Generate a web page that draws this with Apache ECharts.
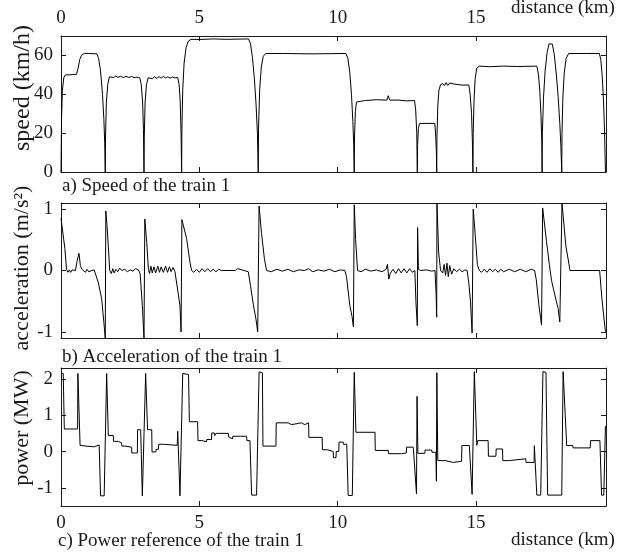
<!DOCTYPE html>
<html>
<head>
<meta charset="utf-8">
<script src="https://cdn.jsdelivr.net/npm/echarts@6.0.0/dist/echarts.min.js"></script>
<style>
  html, body { margin: 0; padding: 0; background: #fff; }
  #main { width: 619px; height: 556px; }
</style>
</head>
<body>
<div id="main"></div>
<script>
// distance axis (km)
const xMax = 19.7;
const xTicks = [0, 5, 10, 15];

// a) speed of the train 1 : [distance km, speed km/h]
const speedData = [
  [0, 0], [0.02, 28], [0.05, 42], [0.1, 48.5], [0.16, 50], [0.3, 50], [0.56, 50.3], [0.62, 53.5], [0.68, 58],
  [0.75, 60.3], [0.85, 61], [1.0, 61], [1.3, 60.8], [1.36, 58.5], [1.43, 52], [1.5, 40], [1.55, 27], [1.58, 15], [1.6, 0],
  [1.61, 18], [1.64, 36], [1.69, 45], [1.75, 49], [1.82, 49.5], [1.9, 48.6], [1.98, 49.4], [2.06, 48.7], [2.15, 49.3],
  [2.25, 48.6], [2.35, 49.2], [2.45, 48.7], [2.55, 49.1], [2.65, 48.6], [2.75, 48.8], [2.85, 48.4], [2.9, 45], [2.95, 36],
  [2.98, 22], [3.0, 0],
  [3.01, 18], [3.04, 36], [3.09, 45], [3.15, 48.5], [3.22, 48.8], [3.3, 48], [3.38, 49], [3.46, 48.2], [3.54, 49.1],
  [3.62, 48.3], [3.7, 49.2], [3.78, 48.4], [3.86, 49], [3.94, 48.3], [4.02, 48.9], [4.1, 48.5], [4.22, 48.6], [4.27, 45],
  [4.31, 36], [4.34, 20], [4.36, 0],
  [4.37, 22], [4.4, 42], [4.45, 56], [4.52, 64], [4.6, 67.3], [4.7, 68.3], [5.0, 68.2], [5.5, 68.5], [6.0, 68.3],
  [6.78, 68.5], [6.85, 66], [6.92, 59], [6.99, 48], [7.05, 35], [7.1, 20], [7.13, 0],
  [7.14, 22], [7.18, 42], [7.24, 54], [7.31, 59.5], [7.4, 61], [8, 61], [9, 60.8], [10.3, 61], [10.37, 58.5],
  [10.44, 51], [10.5, 40], [10.55, 26], [10.58, 14], [10.6, 0],
  [10.61, 18], [10.64, 31], [10.68, 36], [10.75, 37], [11, 36.8], [11.4, 37.2], [11.78, 37], [11.83, 39.3], [11.88, 37],
  [12.2, 37], [12.5, 36.6], [12.78, 36.8], [12.82, 32], [12.86, 20], [12.88, 0],
  [12.89, 14], [12.92, 22.5], [12.96, 25], [13.3, 25], [13.51, 25], [13.54, 20], [13.57, 10], [13.58, 0],
  [13.59, 18], [13.62, 34], [13.66, 42], [13.72, 45], [13.8, 45.5], [13.86, 44.4], [13.92, 46], [13.98, 44.6],
  [14.05, 45.8], [14.12, 44.8], [14.2, 45.3], [14.35, 45], [14.5, 44.7], [14.74, 44.8], [14.79, 40], [14.84, 30],
  [14.87, 16], [14.89, 0],
  [14.9, 20], [14.93, 37], [14.97, 48], [15.03, 53.5], [15.12, 54.5], [15.5, 54.2], [16, 54.5], [16.5, 54.3],
  [17.2, 54.5], [17.26, 50], [17.31, 41], [17.35, 29], [17.38, 15], [17.39, 0],
  [17.4, 20], [17.44, 38], [17.5, 52], [17.57, 61.5], [17.64, 66], [17.7, 67], [17.76, 65.8], [17.83, 60.5],
  [17.9, 51], [17.97, 39], [18.03, 25], [18.07, 13], [18.1, 0],
  [18.11, 20], [18.14, 38], [18.19, 51], [18.26, 58.5], [18.35, 61], [19, 61], [19.46, 61], [19.51, 58], [19.56, 50],
  [19.61, 37], [19.65, 20], [19.68, 0]
];

// b) acceleration of the train 1 : [distance km, m/s2]
const accelData = [
  [0, 0.85], [0.03, 0.88], [0.14, 0.36], [0.2, 0.02], [0.25, -0.03], [0.3, 0.01], [0.35, -0.03], [0.4, 0.01],
  [0.45, -0.02], [0.52, 0.0], [0.58, 0.15], [0.65, 0.28], [0.7, 0.08], [0.76, 0.02], [0.82, 0.0], [0.88, -0.03],
  [0.94, 0.02], [1.0, -0.02], [1.06, 0.01], [1.12, 0.0], [1.2, 0.01], [1.27, -0.02], [1.35, -0.2], [1.47, -0.46],
  [1.55, -0.85], [1.6, -1.1], [1.62, 0.97], [1.66, 0.75], [1.71, 0.4], [1.76, 0.0], [1.82, -0.05], [1.87, 0.03],
  [1.92, -0.04], [1.98, 0.02], [2.05, -0.02], [2.12, 0.04], [2.2, 0.0], [2.3, 0.02], [2.4, -0.02], [2.5, 0.01],
  [2.6, -0.01], [2.7, 0.03], [2.8, 0.01], [2.86, -0.05], [2.94, -0.57], [2.97, -0.6], [3.0, -1.1],
  [3.03, 0.84], [3.1, 0.45], [3.16, 0.02], [3.2, -0.05], [3.25, 0.07], [3.3, -0.04], [3.36, 0.06], [3.42, -0.04],
  [3.5, 0.07], [3.56, -0.03], [3.62, 0.06], [3.7, -0.03], [3.78, 0.07], [3.85, -0.03], [3.92, 0.06], [3.98, -0.02],
  [4.05, 0.05], [4.12, -0.02], [4.18, 0.0], [4.3, -0.57], [4.34, -1.0],
  [4.37, 0.83], [4.42, 0.8], [4.54, 0.52], [4.66, 0.14], [4.72, 0.0], [4.8, -0.03], [4.9, 0.02], [5.0, -0.03],
  [5.1, 0.03], [5.2, -0.02], [5.3, 0.03], [5.4, -0.02], [5.5, 0.02], [5.6, -0.02], [5.7, 0.02], [5.8, 0.0],
  [6.3, 0.0], [6.38, 0.03], [6.45, 0.0], [6.77, -0.02], [6.85, -0.25], [6.95, -0.55], [7.05, -0.8], [7.11, -1.0],
  [7.16, 1.05], [7.25, 0.6], [7.35, 0.2], [7.43, 0.0], [7.6, -0.02], [7.8, 0.02], [8.0, -0.01], [8.2, 0.02],
  [8.4, -0.02], [8.6, 0.01], [8.8, 0.0], [8.95, 0.03], [9.1, -0.02], [9.3, 0.01], [9.5, -0.01], [9.7, 0.02],
  [9.9, -0.02], [10.1, 0.01], [10.26, 0.0], [10.32, -0.1], [10.44, -0.57], [10.52, -0.75], [10.57, -0.92],
  [10.6, 1.07], [10.65, 0.5], [10.72, 0.0], [10.85, -0.02], [11.0, 0.02], [11.2, -0.01], [11.4, 0.01], [11.6, -0.02],
  [11.75, 0.02], [11.8, 0.1], [11.85, -0.14], [11.9, -0.05], [12.0, 0.02], [12.1, -0.05], [12.2, 0.03], [12.3, -0.04],
  [12.4, 0.03], [12.5, -0.04], [12.6, 0.03], [12.7, -0.03], [12.79, 0.0], [12.83, -0.52], [12.88, -0.9],
  [12.89, 0.7], [12.92, 0.02], [13.0, 0.0], [13.2, 0.01], [13.4, -0.01], [13.52, 0.0], [13.56, -0.4], [13.58, -0.76],
  [13.59, 1.1], [13.65, 0.3], [13.72, 0.0], [13.8, -0.04], [13.85, 0.1], [13.9, -0.08], [13.95, 0.12], [14.0, -0.1],
  [14.05, 0.08], [14.12, -0.06], [14.2, 0.03], [14.3, -0.02], [14.4, 0.02], [14.5, -0.02], [14.6, 0.01], [14.68, 0.0],
  [14.74, -0.2], [14.8, -0.5], [14.86, -1.02], [14.9, 1.0], [14.97, 0.6], [15.05, 0.1], [15.12, 0.0], [15.2, -0.03],
  [15.3, 0.02], [15.4, -0.03], [15.5, 0.03], [15.6, -0.02], [15.7, 0.02], [15.8, -0.03], [15.9, 0.02], [16.0, -0.02],
  [16.2, 0.02], [16.4, -0.02], [16.6, 0.02], [16.8, -0.02], [17.0, 0.02], [17.12, 0.0], [17.18, -0.15],
  [17.27, -0.55], [17.37, -0.89], [17.41, 1.02], [17.55, 0.47], [17.65, 0.1], [17.73, -0.16], [17.85, -0.4],
  [17.97, -0.62], [18.03, -0.84], [18.09, -0.86], [18.11, 1.1], [18.25, 0.4], [18.4, 0.0], [19.47, 0.0],
  [19.55, -0.45], [19.68, -1.0]
];

// c) power reference of the train 1 : [distance km, MW]
const powerData = [
  [0, 2.15], [0.08, 2.15], [0.12, 0.62], [0.6, 0.62], [0.61, 2.15], [0.65, 2.12], [0.69, 0.17], [0.9, 0.15],
  [0.92, 0.12], [1.2, 0.13], [1.21, 0.18], [1.38, 0.18], [1.43, -1.22], [1.56, -1.22], [1.65, 2.15], [1.69, 2.15],
  [1.71, 0.44], [1.89, 0.44], [1.9, 0.28], [2.07, 0.28], [2.08, 0.24], [2.19, 0.24], [2.2, 0.15], [2.31, 0.15],
  [2.32, 0.2], [2.37, 0.2], [2.38, 0.12], [2.55, 0.12], [2.56, -0.04], [2.76, -0.04], [2.77, 0.6], [2.88, 0.6],
  [2.94, -1.22], [2.98, -1.22], [3.06, 2.15], [3.09, 2.15], [3.13, 0.6], [3.28, 0.6], [3.29, -0.01], [3.43, -0.01],
  [3.44, 0.06], [3.52, 0.06], [3.53, 0.2], [3.7, 0.2], [3.71, 0.17], [4.2, 0.17], [4.22, 0.56], [4.3, -1.22],
  [4.33, -1.22], [4.4, 2.15], [4.61, 2.12], [4.64, 0.82], [4.94, 0.82], [4.95, 0.3], [5.1, 0.3], [5.11, 0.27],
  [5.26, 0.27], [5.27, 0.33], [5.44, 0.33], [5.45, 0.51], [5.55, 0.51], [5.56, 0.44], [5.6, 0.44], [5.61, 0.5],
  [5.69, 0.5], [5.7, 0.46], [5.75, 0.46], [5.76, 0.5], [6.05, 0.5], [6.06, 0.4], [6.12, 0.4], [6.13, 0.35],
  [6.2, 0.35], [6.21, 0.42], [6.4, 0.42], [6.41, 0.38], [6.47, 0.38], [6.48, 0.42], [6.71, 0.42], [6.72, 0.3],
  [6.83, 0.3], [6.89, -1.2], [7.07, -1.2], [7.16, 2.19], [7.28, 2.17], [7.3, 0.15], [7.77, 0.15], [7.78, 0.79],
  [8.21, 0.79], [8.22, 0.74], [8.33, 0.74], [8.34, 0.79], [8.69, 0.79], [8.7, 0.74], [8.81, 0.74], [8.82, 0.79],
  [8.95, 0.79], [8.96, 0.39], [9.44, 0.39], [9.45, 0.05], [9.62, 0.05], [9.63, 0.0], [9.84, 0.0], [9.85, -0.17],
  [9.94, -0.17], [9.95, 0.0], [10.04, 0.0], [10.05, 0.26], [10.2, 0.26], [10.21, 0.2], [10.33, 0.2], [10.38, -1.21],
  [10.53, -1.21], [10.6, 2.18], [10.63, 2.18], [10.66, 0.53], [11.35, 0.53], [11.36, 0.03], [11.83, 0.03],
  [11.84, -0.06], [12.31, -0.06], [12.32, -0.04], [12.48, -0.04], [12.49, 0.12], [12.73, 0.12], [12.74, 0.06],
  [12.8, 0.06], [12.85, -1.17], [12.87, 1.52], [12.9, -0.05], [13.15, -0.05], [13.16, 0.04], [13.4, 0.04],
  [13.41, -0.02], [13.55, -0.02], [13.57, -0.82], [13.585, 2.17], [13.62, -0.25], [13.88, -0.25], [13.89, -0.3],
  [14.18, -0.3], [14.19, -0.27], [14.48, -0.27], [14.49, 0.165], [14.76, 0.165], [14.86, -1.18], [14.9, -1.18],
  [14.94, 2.2], [14.97, 2.2], [15.03, 0.17], [15.06, 0.3], [15.44, 0.3], [15.45, -0.13], [15.72, -0.13],
  [15.73, 0.07], [15.96, 0.07], [15.97, -0.25], [16.2, -0.25], [16.21, -0.2], [16.8, -0.2], [16.81, -0.3],
  [17.1, -0.3], [17.11, 0.16], [17.16, 0.16], [17.2, -1.2], [17.34, -1.2], [17.42, 2.2], [17.53, 2.18],
  [17.59, -1.2], [18.1, -1.2], [18.15, 2.2], [18.22, 2.18], [18.28, 0.165], [18.5, 0.165], [18.51, 0.1],
  [19.13, 0.1], [19.14, 0.3], [19.48, 0.3], [19.54, -1.2], [19.62, -1.2], [19.68, 0.7]
];

const FONT = 'Liberation Serif';
const INK = '#1a1a1a';

function xAx(grid, pos, labels) {
  return {
    type: 'value', gridIndex: grid, position: pos, min: 0, max: xMax,
    axisLine: { show: true, onZero: false, lineStyle: { color: INK, width: 1 } },
    axisTick: { show: true, inside: true, length: 5, customValues: xTicks, lineStyle: { color: INK, width: 1 } },
    axisLabel: { show: labels, customValues: xTicks, margin: 8, fontSize: 19, color: INK, fontFamily: FONT },
    splitLine: { show: false }
  };
}

function yAx(grid, pos, min, max, ticks, labels) {
  return {
    type: 'value', gridIndex: grid, position: pos, min: min, max: max,
    axisLine: { show: true, onZero: false, lineStyle: { color: INK, width: 1 } },
    axisTick: { show: true, inside: true, length: 5, customValues: ticks, lineStyle: { color: INK, width: 1 } },
    axisLabel: { show: labels, customValues: ticks, margin: 8, fontSize: 19, color: INK, fontFamily: FONT },
    splitLine: { show: false }
  };
}

function caption(text, x, y) {
  return {
    type: 'text', x: x, y: y,
    style: { text: text, fontSize: 19, fontFamily: FONT, fill: INK, align: 'left', verticalAlign: 'middle' }
  };
}

// rotated y axis title, centred on (x, y)
function yTitle(text, x, y, size) {
  return {
    type: 'text', x: x, y: y, rotation: Math.PI / 2,
    style: { text: text, fontSize: size, fontFamily: FONT, fill: INK, align: 'center', verticalAlign: 'middle' }
  };
}

function trace(data, idx) {
  return {
    type: 'line', data: data, xAxisIndex: idx, yAxisIndex: idx,
    showSymbol: false, symbol: 'none', lineStyle: { color: '#000', width: 1 }
  };
}

const chart = echarts.init(document.getElementById('main'));
const frame = { show: false, containLabel: false, outerBoundsMode: 'none' };

chart.setOption({
  animation: false,
  textStyle: { fontFamily: FONT },
  grid: [
    Object.assign({ left: 61, top: 36, width: 545, height: 136 }, frame),
    Object.assign({ left: 61, top: 203, width: 545, height: 135 }, frame),
    Object.assign({ left: 61, top: 368, width: 545, height: 138 }, frame)
  ],
  xAxis: [
    xAx(0, 'top', true), xAx(0, 'bottom', false),
    xAx(1, 'bottom', false), xAx(1, 'top', false),
    xAx(2, 'bottom', true), xAx(2, 'top', false)
  ],
  yAxis: [
    yAx(0, 'left', 0, 70, [0, 20, 40, 60], true), yAx(0, 'right', 0, 70, [0, 20, 40, 60], false),
    yAx(1, 'left', -1.1, 1.1, [-1, 0, 1], true), yAx(1, 'right', -1.1, 1.1, [-1, 0, 1], false),
    yAx(2, 'left', -1.5, 2.3, [-1, 0, 1, 2], true), yAx(2, 'right', -1.5, 2.3, [-1, 0, 1, 2], false)
  ],
  series: [
    trace(speedData, 0),
    trace(accelData, 2),
    trace(powerData, 4)
  ],
  graphic: [
    yTitle('speed (km/h)', 23, 88, 24),
    yTitle('acceleration (m/s²)', 22, 268, 22),
    yTitle('power (MW)', 22, 428, 22),
    caption('a) Speed of the train 1', 62, 186),
    caption('b) Acceleration of the train 1', 62, 357),
    caption('c) Power reference of the train 1', 58, 541),
    caption('distance (km)', 511, 8),
    caption('distance (km)', 511, 540)
  ]
});
</script>
</body>
</html>
